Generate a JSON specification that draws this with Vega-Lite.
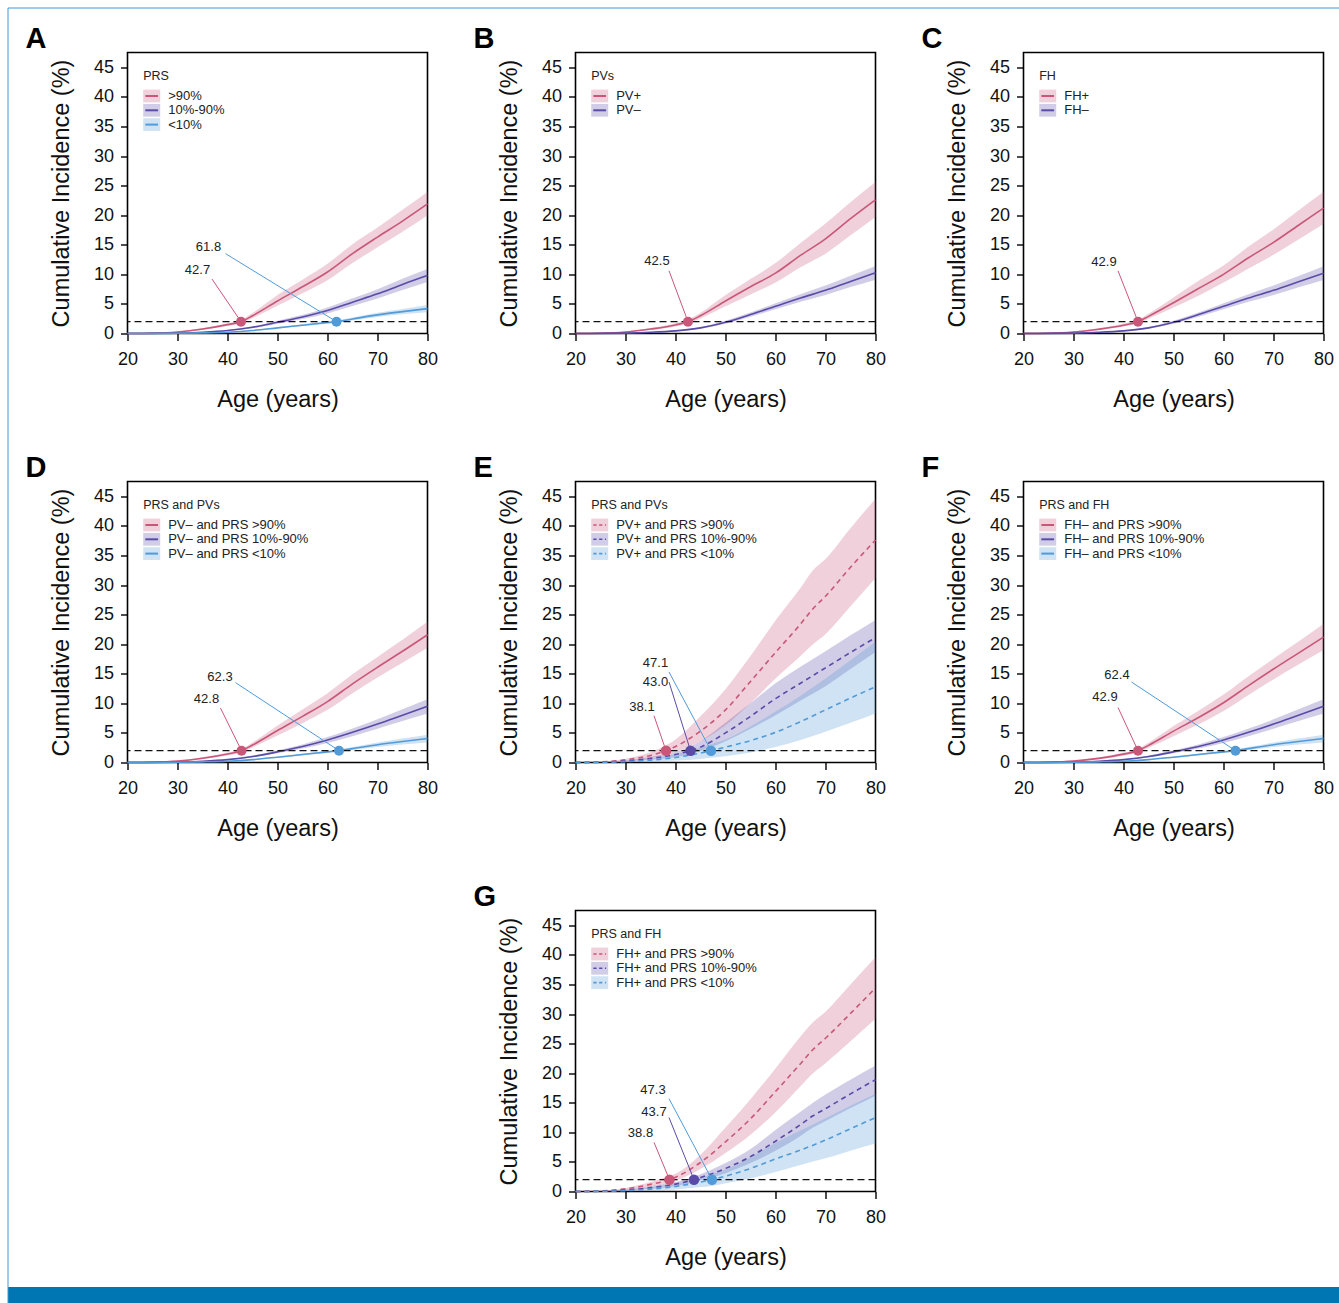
{
"$schema": "https://vega.github.io/schema/vega-lite/v6.json",
"padding": {"left": 7, "top": 7, "right": 0, "bottom": 0},
"autosize": {"type": "pad"},
"background": "white",
"columns": 1,
"align": "none",
"bounds": "flush",
"spacing": {"row": -1250.5, "column": 0},
"resolve": {"scale": {"fill": "independent", "stroke": "independent", "color": "independent", "x": "independent", "y": "independent"}, "legend": {"fill": "independent", "stroke": "independent", "color": "independent"}},
"datasets": {
"cA": [
{"g":">90%","age":20,"est":0,"lo":0,"hi":0},{"g":">90%","age":25,"est":0.05,"lo":0.03,"hi":0.08},{"g":">90%","age":30,"est":0.25,"lo":0.18,"hi":0.33},{"g":">90%","age":35,"est":0.75,"lo":0.6,"hi":0.9},{"g":">90%","age":40,"est":1.5,"lo":1.25,"hi":1.75},{"g":">90%","age":42.7,"est":2.0,"lo":1.7,"hi":2.3},{"g":">90%","age":45,"est":3.0,"lo":2.6,"hi":3.45},{"g":">90%","age":50,"est":5.5,"lo":4.7,"hi":6.5},{"g":">90%","age":55,"est":7.9,"lo":6.8,"hi":9.1},{"g":">90%","age":60,"est":10.4,"lo":9.0,"hi":11.8},{"g":">90%","age":65,"est":13.5,"lo":11.9,"hi":15.1},{"g":">90%","age":70,"est":16.3,"lo":14.6,"hi":17.9},{"g":">90%","age":75,"est":19.0,"lo":17.2,"hi":20.9},{"g":">90%","age":80,"est":21.9,"lo":20.0,"hi":23.9},
{"g":"10%-90%","age":20,"est":0,"lo":0,"hi":0},{"g":"10%-90%","age":25,"est":0.02,"lo":0.01,"hi":0.03},{"g":"10%-90%","age":30,"est":0.08,"lo":0.06,"hi":0.1},{"g":"10%-90%","age":35,"est":0.22,"lo":0.17,"hi":0.27},{"g":"10%-90%","age":40,"est":0.5,"lo":0.42,"hi":0.58},{"g":"10%-90%","age":45,"est":1.05,"lo":0.9,"hi":1.2},{"g":"10%-90%","age":50,"est":1.9,"lo":1.65,"hi":2.15},{"g":"10%-90%","age":55,"est":2.8,"lo":2.45,"hi":3.15},{"g":"10%-90%","age":60,"est":3.9,"lo":3.4,"hi":4.4},{"g":"10%-90%","age":65,"est":5.3,"lo":4.65,"hi":5.95},{"g":"10%-90%","age":70,"est":6.7,"lo":5.9,"hi":7.5},{"g":"10%-90%","age":75,"est":8.3,"lo":7.35,"hi":9.25},{"g":"10%-90%","age":80,"est":9.8,"lo":8.7,"hi":10.9},
{"g":"<10%","age":20,"est":0,"lo":0,"hi":0},{"g":"<10%","age":25,"est":0.01,"lo":0.005,"hi":0.015},{"g":"<10%","age":30,"est":0.04,"lo":0.03,"hi":0.05},{"g":"<10%","age":35,"est":0.1,"lo":0.08,"hi":0.12},{"g":"<10%","age":40,"est":0.22,"lo":0.19,"hi":0.25},{"g":"<10%","age":45,"est":0.5,"lo":0.44,"hi":0.56},{"g":"<10%","age":50,"est":0.95,"lo":0.85,"hi":1.05},{"g":"<10%","age":55,"est":1.4,"lo":1.25,"hi":1.55},{"g":"<10%","age":60,"est":1.85,"lo":1.65,"hi":2.05},{"g":"<10%","age":61.8,"est":2.0,"lo":1.78,"hi":2.22},{"g":"<10%","age":65,"est":2.45,"lo":2.2,"hi":2.7},{"g":"<10%","age":70,"est":3.15,"lo":2.8,"hi":3.5},{"g":"<10%","age":75,"est":3.7,"lo":3.25,"hi":4.15},{"g":"<10%","age":80,"est":4.2,"lo":3.6,"hi":4.8}
],
"cB": [
{"g":"PV+","age":20,"est":0,"lo":0,"hi":0},{"g":"PV+","age":25,"est":0.05,"lo":0.03,"hi":0.08},{"g":"PV+","age":30,"est":0.25,"lo":0.18,"hi":0.33},{"g":"PV+","age":35,"est":0.75,"lo":0.58,"hi":0.92},{"g":"PV+","age":40,"est":1.45,"lo":1.2,"hi":1.75},{"g":"PV+","age":42.5,"est":2.0,"lo":1.7,"hi":2.35},{"g":"PV+","age":45,"est":3.0,"lo":2.55,"hi":3.5},{"g":"PV+","age":50,"est":5.5,"lo":4.6,"hi":6.5},{"g":"PV+","age":55,"est":7.9,"lo":6.6,"hi":9.2},{"g":"PV+","age":60,"est":10.2,"lo":8.6,"hi":11.9},{"g":"PV+","age":65,"est":13.2,"lo":11.2,"hi":15.3},{"g":"PV+","age":70,"est":16.0,"lo":13.5,"hi":18.6},{"g":"PV+","age":75,"est":19.4,"lo":16.6,"hi":22.2},{"g":"PV+","age":80,"est":22.6,"lo":19.7,"hi":25.6},
{"g":"PV–","age":20,"est":0,"lo":0,"hi":0},{"g":"PV–","age":25,"est":0.02,"lo":0.01,"hi":0.03},{"g":"PV–","age":30,"est":0.07,"lo":0.05,"hi":0.09},{"g":"PV–","age":35,"est":0.2,"lo":0.16,"hi":0.24},{"g":"PV–","age":40,"est":0.45,"lo":0.38,"hi":0.52},{"g":"PV–","age":45,"est":0.95,"lo":0.82,"hi":1.08},{"g":"PV–","age":50,"est":1.9,"lo":1.65,"hi":2.15},{"g":"PV–","age":55,"est":3.2,"lo":2.85,"hi":3.55},{"g":"PV–","age":60,"est":4.6,"lo":4.1,"hi":5.1},{"g":"PV–","age":65,"est":6.0,"lo":5.35,"hi":6.65},{"g":"PV–","age":70,"est":7.3,"lo":6.5,"hi":8.1},{"g":"PV–","age":75,"est":8.8,"lo":7.85,"hi":9.75},{"g":"PV–","age":80,"est":10.25,"lo":9.1,"hi":11.4}
],
"cC": [
{"g":"FH+","age":20,"est":0,"lo":0,"hi":0},{"g":"FH+","age":25,"est":0.05,"lo":0.03,"hi":0.08},{"g":"FH+","age":30,"est":0.25,"lo":0.18,"hi":0.33},{"g":"FH+","age":35,"est":0.72,"lo":0.57,"hi":0.88},{"g":"FH+","age":40,"est":1.4,"lo":1.17,"hi":1.68},{"g":"FH+","age":42.9,"est":2.0,"lo":1.7,"hi":2.35},{"g":"FH+","age":45,"est":2.9,"lo":2.5,"hi":3.35},{"g":"FH+","age":50,"est":5.2,"lo":4.4,"hi":6.1},{"g":"FH+","age":55,"est":7.6,"lo":6.4,"hi":8.9},{"g":"FH+","age":60,"est":10.0,"lo":8.6,"hi":11.5},{"g":"FH+","age":65,"est":12.8,"lo":11.0,"hi":14.7},{"g":"FH+","age":70,"est":15.4,"lo":13.3,"hi":17.6},{"g":"FH+","age":75,"est":18.3,"lo":15.9,"hi":20.8},{"g":"FH+","age":80,"est":21.2,"lo":18.5,"hi":23.9},
{"g":"FH–","age":20,"est":0,"lo":0,"hi":0},{"g":"FH–","age":25,"est":0.02,"lo":0.01,"hi":0.03},{"g":"FH–","age":30,"est":0.07,"lo":0.05,"hi":0.09},{"g":"FH–","age":35,"est":0.2,"lo":0.16,"hi":0.24},{"g":"FH–","age":40,"est":0.45,"lo":0.38,"hi":0.52},{"g":"FH–","age":45,"est":0.95,"lo":0.82,"hi":1.08},{"g":"FH–","age":50,"est":1.9,"lo":1.65,"hi":2.15},{"g":"FH–","age":55,"est":3.2,"lo":2.85,"hi":3.55},{"g":"FH–","age":60,"est":4.6,"lo":4.1,"hi":5.1},{"g":"FH–","age":65,"est":6.0,"lo":5.35,"hi":6.65},{"g":"FH–","age":70,"est":7.3,"lo":6.5,"hi":8.1},{"g":"FH–","age":75,"est":8.75,"lo":7.8,"hi":9.7},{"g":"FH–","age":80,"est":10.2,"lo":9.05,"hi":11.35}
],
"cD": [
{"g":"PV– and PRS >90%","age":20,"est":0,"lo":0,"hi":0},{"g":"PV– and PRS >90%","age":25,"est":0.05,"lo":0.025,"hi":0.075},{"g":"PV– and PRS >90%","age":30,"est":0.24,"lo":0.17,"hi":0.31},{"g":"PV– and PRS >90%","age":35,"est":0.72,"lo":0.57,"hi":0.87},{"g":"PV– and PRS >90%","age":40,"est":1.45,"lo":1.19,"hi":1.71},{"g":"PV– and PRS >90%","age":42.8,"est":2.0,"lo":1.7,"hi":2.3},{"g":"PV– and PRS >90%","age":45,"est":2.95,"lo":2.53,"hi":3.37},{"g":"PV– and PRS >90%","age":50,"est":5.4,"lo":4.55,"hi":6.25},{"g":"PV– and PRS >90%","age":55,"est":7.8,"lo":6.65,"hi":8.95},{"g":"PV– and PRS >90%","age":60,"est":10.3,"lo":8.9,"hi":11.7},{"g":"PV– and PRS >90%","age":65,"est":13.3,"lo":11.7,"hi":14.9},{"g":"PV– and PRS >90%","age":70,"est":16.1,"lo":14.35,"hi":17.85},{"g":"PV– and PRS >90%","age":75,"est":18.8,"lo":16.85,"hi":20.75},{"g":"PV– and PRS >90%","age":80,"est":21.6,"lo":19.4,"hi":23.8},
{"g":"PV– and PRS 10%-90%","age":20,"est":0,"lo":0,"hi":0},{"g":"PV– and PRS 10%-90%","age":25,"est":0.02,"lo":0.01,"hi":0.03},{"g":"PV– and PRS 10%-90%","age":30,"est":0.08,"lo":0.06,"hi":0.1},{"g":"PV– and PRS 10%-90%","age":35,"est":0.21,"lo":0.16,"hi":0.26},{"g":"PV– and PRS 10%-90%","age":40,"est":0.48,"lo":0.4,"hi":0.56},{"g":"PV– and PRS 10%-90%","age":45,"est":1.0,"lo":0.85,"hi":1.15},{"g":"PV– and PRS 10%-90%","age":50,"est":1.8,"lo":1.55,"hi":2.05},{"g":"PV– and PRS 10%-90%","age":55,"est":2.7,"lo":2.35,"hi":3.05},{"g":"PV– and PRS 10%-90%","age":60,"est":3.8,"lo":3.3,"hi":4.3},{"g":"PV– and PRS 10%-90%","age":65,"est":5.1,"lo":4.45,"hi":5.75},{"g":"PV– and PRS 10%-90%","age":70,"est":6.5,"lo":5.7,"hi":7.3},{"g":"PV– and PRS 10%-90%","age":75,"est":8.0,"lo":7.0,"hi":9.0},{"g":"PV– and PRS 10%-90%","age":80,"est":9.5,"lo":8.3,"hi":10.7},
{"g":"PV– and PRS <10%","age":20,"est":0,"lo":0,"hi":0},{"g":"PV– and PRS <10%","age":25,"est":0.01,"lo":0.005,"hi":0.015},{"g":"PV– and PRS <10%","age":30,"est":0.04,"lo":0.03,"hi":0.05},{"g":"PV– and PRS <10%","age":35,"est":0.1,"lo":0.08,"hi":0.12},{"g":"PV– and PRS <10%","age":40,"est":0.21,"lo":0.18,"hi":0.24},{"g":"PV– and PRS <10%","age":45,"est":0.48,"lo":0.42,"hi":0.54},{"g":"PV– and PRS <10%","age":50,"est":0.9,"lo":0.8,"hi":1.0},{"g":"PV– and PRS <10%","age":55,"est":1.35,"lo":1.2,"hi":1.5},{"g":"PV– and PRS <10%","age":60,"est":1.8,"lo":1.6,"hi":2.0},{"g":"PV– and PRS <10%","age":62.3,"est":2.0,"lo":1.78,"hi":2.22},{"g":"PV– and PRS <10%","age":65,"est":2.35,"lo":2.1,"hi":2.6},{"g":"PV– and PRS <10%","age":70,"est":3.0,"lo":2.62,"hi":3.38},{"g":"PV– and PRS <10%","age":75,"est":3.55,"lo":3.05,"hi":4.05},{"g":"PV– and PRS <10%","age":80,"est":4.05,"lo":3.4,"hi":4.7}
],
"cE": [
{"g":"PV+ and PRS >90%","age":20,"est":0,"lo":0,"hi":0},{"g":"PV+ and PRS >90%","age":25,"est":0.1,"lo":0.06,"hi":0.15},{"g":"PV+ and PRS >90%","age":30,"est":0.45,"lo":0.3,"hi":0.65},{"g":"PV+ and PRS >90%","age":35,"est":1.2,"lo":0.8,"hi":1.75},{"g":"PV+ and PRS >90%","age":38.1,"est":2.0,"lo":1.35,"hi":2.9},{"g":"PV+ and PRS >90%","age":40,"est":2.7,"lo":1.8,"hi":3.9},{"g":"PV+ and PRS >90%","age":45,"est":5.3,"lo":3.6,"hi":7.8},{"g":"PV+ and PRS >90%","age":50,"est":8.9,"lo":6.3,"hi":12.4},{"g":"PV+ and PRS >90%","age":55,"est":13.7,"lo":10.0,"hi":18.0},{"g":"PV+ and PRS >90%","age":60,"est":18.6,"lo":14.2,"hi":24.0},{"g":"PV+ and PRS >90%","age":65,"est":23.4,"lo":18.0,"hi":29.5},{"g":"PV+ and PRS >90%","age":67.5,"est":26.0,"lo":20.0,"hi":32.5},{"g":"PV+ and PRS >90%","age":70,"est":28.1,"lo":21.7,"hi":34.4},{"g":"PV+ and PRS >90%","age":75,"est":33.0,"lo":26.4,"hi":39.6},{"g":"PV+ and PRS >90%","age":80,"est":37.6,"lo":31.2,"hi":44.6},
{"g":"PV+ and PRS 10%-90%","age":20,"est":0,"lo":0,"hi":0},{"g":"PV+ and PRS 10%-90%","age":25,"est":0.05,"lo":0.03,"hi":0.08},{"g":"PV+ and PRS 10%-90%","age":30,"est":0.25,"lo":0.15,"hi":0.35},{"g":"PV+ and PRS 10%-90%","age":35,"est":0.7,"lo":0.45,"hi":0.95},{"g":"PV+ and PRS 10%-90%","age":40,"est":1.35,"lo":0.95,"hi":1.8},{"g":"PV+ and PRS 10%-90%","age":43,"est":2.0,"lo":1.45,"hi":2.7},{"g":"PV+ and PRS 10%-90%","age":45,"est":2.6,"lo":1.95,"hi":3.6},{"g":"PV+ and PRS 10%-90%","age":50,"est":5.0,"lo":3.6,"hi":6.7},{"g":"PV+ and PRS 10%-90%","age":55,"est":7.8,"lo":5.7,"hi":10.0},{"g":"PV+ and PRS 10%-90%","age":60,"est":10.8,"lo":8.0,"hi":13.4},{"g":"PV+ and PRS 10%-90%","age":65,"est":13.4,"lo":10.5,"hi":16.2},{"g":"PV+ and PRS 10%-90%","age":70,"est":16.0,"lo":12.9,"hi":18.8},{"g":"PV+ and PRS 10%-90%","age":75,"est":18.6,"lo":15.8,"hi":21.5},{"g":"PV+ and PRS 10%-90%","age":80,"est":21.1,"lo":18.7,"hi":24.1},
{"g":"PV+ and PRS <10%","age":20,"est":0,"lo":0,"hi":0},{"g":"PV+ and PRS <10%","age":25,"est":0.03,"lo":0.01,"hi":0.05},{"g":"PV+ and PRS <10%","age":30,"est":0.15,"lo":0.05,"hi":0.3},{"g":"PV+ and PRS <10%","age":35,"est":0.4,"lo":0.15,"hi":0.7},{"g":"PV+ and PRS <10%","age":40,"est":0.85,"lo":0.35,"hi":1.4},{"g":"PV+ and PRS <10%","age":45,"est":1.6,"lo":0.6,"hi":2.5},{"g":"PV+ and PRS <10%","age":47.1,"est":2.0,"lo":0.8,"hi":3.1},{"g":"PV+ and PRS <10%","age":50,"est":2.6,"lo":1.05,"hi":3.9},{"g":"PV+ and PRS <10%","age":55,"est":3.7,"lo":1.7,"hi":6.1},{"g":"PV+ and PRS <10%","age":60,"est":5.1,"lo":2.6,"hi":8.6},{"g":"PV+ and PRS <10%","age":65,"est":6.9,"lo":3.8,"hi":11.3},{"g":"PV+ and PRS <10%","age":70,"est":8.9,"lo":5.2,"hi":14.2},{"g":"PV+ and PRS <10%","age":75,"est":10.9,"lo":6.7,"hi":17.3},{"g":"PV+ and PRS <10%","age":80,"est":12.8,"lo":8.3,"hi":20.4}
],
"cF": [
{"g":"FH– and PRS >90%","age":20,"est":0,"lo":0,"hi":0},{"g":"FH– and PRS >90%","age":25,"est":0.05,"lo":0.025,"hi":0.075},{"g":"FH– and PRS >90%","age":30,"est":0.24,"lo":0.17,"hi":0.31},{"g":"FH– and PRS >90%","age":35,"est":0.7,"lo":0.55,"hi":0.85},{"g":"FH– and PRS >90%","age":40,"est":1.42,"lo":1.16,"hi":1.68},{"g":"FH– and PRS >90%","age":42.9,"est":2.0,"lo":1.7,"hi":2.3},{"g":"FH– and PRS >90%","age":45,"est":2.9,"lo":2.48,"hi":3.32},{"g":"FH– and PRS >90%","age":50,"est":5.3,"lo":4.45,"hi":6.15},{"g":"FH– and PRS >90%","age":55,"est":7.6,"lo":6.45,"hi":8.75},{"g":"FH– and PRS >90%","age":60,"est":10.1,"lo":8.7,"hi":11.5},{"g":"FH– and PRS >90%","age":65,"est":13.0,"lo":11.4,"hi":14.6},{"g":"FH– and PRS >90%","age":70,"est":15.8,"lo":14.05,"hi":17.55},{"g":"FH– and PRS >90%","age":75,"est":18.5,"lo":16.55,"hi":20.45},{"g":"FH– and PRS >90%","age":80,"est":21.2,"lo":19.0,"hi":23.4},
{"g":"FH– and PRS 10%-90%","age":20,"est":0,"lo":0,"hi":0},{"g":"FH– and PRS 10%-90%","age":25,"est":0.02,"lo":0.01,"hi":0.03},{"g":"FH– and PRS 10%-90%","age":30,"est":0.08,"lo":0.06,"hi":0.1},{"g":"FH– and PRS 10%-90%","age":35,"est":0.21,"lo":0.16,"hi":0.26},{"g":"FH– and PRS 10%-90%","age":40,"est":0.48,"lo":0.4,"hi":0.56},{"g":"FH– and PRS 10%-90%","age":45,"est":1.0,"lo":0.85,"hi":1.15},{"g":"FH– and PRS 10%-90%","age":50,"est":1.8,"lo":1.55,"hi":2.05},{"g":"FH– and PRS 10%-90%","age":55,"est":2.7,"lo":2.35,"hi":3.05},{"g":"FH– and PRS 10%-90%","age":60,"est":3.8,"lo":3.3,"hi":4.3},{"g":"FH– and PRS 10%-90%","age":65,"est":5.1,"lo":4.45,"hi":5.75},{"g":"FH– and PRS 10%-90%","age":70,"est":6.5,"lo":5.7,"hi":7.3},{"g":"FH– and PRS 10%-90%","age":75,"est":8.0,"lo":7.0,"hi":9.0},{"g":"FH– and PRS 10%-90%","age":80,"est":9.5,"lo":8.3,"hi":10.7},
{"g":"FH– and PRS <10%","age":20,"est":0,"lo":0,"hi":0},{"g":"FH– and PRS <10%","age":25,"est":0.01,"lo":0.005,"hi":0.015},{"g":"FH– and PRS <10%","age":30,"est":0.04,"lo":0.03,"hi":0.05},{"g":"FH– and PRS <10%","age":35,"est":0.1,"lo":0.08,"hi":0.12},{"g":"FH– and PRS <10%","age":40,"est":0.21,"lo":0.18,"hi":0.24},{"g":"FH– and PRS <10%","age":45,"est":0.48,"lo":0.42,"hi":0.54},{"g":"FH– and PRS <10%","age":50,"est":0.9,"lo":0.8,"hi":1.0},{"g":"FH– and PRS <10%","age":55,"est":1.35,"lo":1.2,"hi":1.5},{"g":"FH– and PRS <10%","age":60,"est":1.8,"lo":1.6,"hi":2.0},{"g":"FH– and PRS <10%","age":62.4,"est":2.0,"lo":1.78,"hi":2.22},{"g":"FH– and PRS <10%","age":65,"est":2.35,"lo":2.1,"hi":2.6},{"g":"FH– and PRS <10%","age":70,"est":3.0,"lo":2.62,"hi":3.38},{"g":"FH– and PRS <10%","age":75,"est":3.55,"lo":3.05,"hi":4.05},{"g":"FH– and PRS <10%","age":80,"est":4.05,"lo":3.4,"hi":4.7}
],
"cG": [
{"g":"FH+ and PRS >90%","age":20,"est":0,"lo":0,"hi":0},{"g":"FH+ and PRS >90%","age":25,"est":0.1,"lo":0.06,"hi":0.14},{"g":"FH+ and PRS >90%","age":30,"est":0.45,"lo":0.3,"hi":0.6},{"g":"FH+ and PRS >90%","age":35,"est":1.2,"lo":0.85,"hi":1.6},{"g":"FH+ and PRS >90%","age":38.8,"est":2.0,"lo":1.5,"hi":2.6},{"g":"FH+ and PRS >90%","age":40,"est":2.4,"lo":1.8,"hi":3.0},{"g":"FH+ and PRS >90%","age":45,"est":4.9,"lo":3.8,"hi":6.2},{"g":"FH+ and PRS >90%","age":50,"est":8.4,"lo":6.5,"hi":10.8},{"g":"FH+ and PRS >90%","age":55,"est":12.3,"lo":9.6,"hi":15.6},{"g":"FH+ and PRS >90%","age":60,"est":16.9,"lo":13.4,"hi":20.8},{"g":"FH+ and PRS >90%","age":65,"est":21.6,"lo":17.8,"hi":26.2},{"g":"FH+ and PRS >90%","age":67.5,"est":24.0,"lo":20.0,"hi":28.6},{"g":"FH+ and PRS >90%","age":70,"est":25.9,"lo":21.7,"hi":30.4},{"g":"FH+ and PRS >90%","age":75,"est":30.1,"lo":25.4,"hi":35.0},{"g":"FH+ and PRS >90%","age":80,"est":34.4,"lo":29.2,"hi":39.6},
{"g":"FH+ and PRS 10%-90%","age":20,"est":0,"lo":0,"hi":0},{"g":"FH+ and PRS 10%-90%","age":25,"est":0.04,"lo":0.02,"hi":0.06},{"g":"FH+ and PRS 10%-90%","age":30,"est":0.25,"lo":0.15,"hi":0.35},{"g":"FH+ and PRS 10%-90%","age":35,"est":0.65,"lo":0.45,"hi":0.9},{"g":"FH+ and PRS 10%-90%","age":40,"est":1.25,"lo":0.9,"hi":1.6},{"g":"FH+ and PRS 10%-90%","age":43.7,"est":2.0,"lo":1.55,"hi":2.5},{"g":"FH+ and PRS 10%-90%","age":45,"est":2.35,"lo":1.9,"hi":2.9},{"g":"FH+ and PRS 10%-90%","age":50,"est":3.9,"lo":3.1,"hi":4.8},{"g":"FH+ and PRS 10%-90%","age":55,"est":5.9,"lo":4.8,"hi":7.2},{"g":"FH+ and PRS 10%-90%","age":60,"est":8.5,"lo":6.9,"hi":10.4},{"g":"FH+ and PRS 10%-90%","age":65,"est":11.3,"lo":9.4,"hi":13.5},{"g":"FH+ and PRS 10%-90%","age":67.5,"est":12.8,"lo":10.8,"hi":15.0},{"g":"FH+ and PRS 10%-90%","age":70,"est":14.0,"lo":11.9,"hi":16.4},{"g":"FH+ and PRS 10%-90%","age":75,"est":16.5,"lo":14.1,"hi":18.9},{"g":"FH+ and PRS 10%-90%","age":80,"est":18.9,"lo":16.2,"hi":21.3},
{"g":"FH+ and PRS <10%","age":20,"est":0,"lo":0,"hi":0},{"g":"FH+ and PRS <10%","age":25,"est":0.03,"lo":0.01,"hi":0.05},{"g":"FH+ and PRS <10%","age":30,"est":0.15,"lo":0.05,"hi":0.28},{"g":"FH+ and PRS <10%","age":35,"est":0.4,"lo":0.15,"hi":0.7},{"g":"FH+ and PRS <10%","age":40,"est":0.85,"lo":0.35,"hi":1.35},{"g":"FH+ and PRS <10%","age":45,"est":1.6,"lo":0.75,"hi":2.3},{"g":"FH+ and PRS <10%","age":47.3,"est":2.0,"lo":0.95,"hi":2.95},{"g":"FH+ and PRS <10%","age":50,"est":2.6,"lo":1.4,"hi":3.7},{"g":"FH+ and PRS <10%","age":55,"est":3.9,"lo":2.2,"hi":5.8},{"g":"FH+ and PRS <10%","age":60,"est":5.5,"lo":3.3,"hi":8.2},{"g":"FH+ and PRS <10%","age":65,"est":7.0,"lo":4.5,"hi":10.3},{"g":"FH+ and PRS <10%","age":70,"est":8.7,"lo":5.6,"hi":12.4},{"g":"FH+ and PRS <10%","age":75,"est":10.6,"lo":6.9,"hi":14.5},{"g":"FH+ and PRS <10%","age":80,"est":12.5,"lo":8.1,"hi":16.5}
],
"aA": [{"g":">90%","age":42.7,"tx":34.0,"ty":10.8,"sx":36.9,"sy":9.2,"label":"42.7"},{"g":"<10%","age":61.8,"tx":36.2,"ty":14.6,"sx":39.6,"sy":13.5,"label":"61.8"}],
"aB": [{"g":"PV+","age":42.5,"tx":36.3,"ty":12.3,"sx":38.7,"sy":10.6,"label":"42.5"}],
"aC": [{"g":"FH+","age":42.9,"tx":36.1,"ty":12.05,"sx":38.9,"sy":10.6,"label":"42.9"}],
"aD": [{"g":"PV– and PRS >90%","age":42.8,"tx":35.8,"ty":10.7,"sx":38.6,"sy":9.2,"label":"42.8"},{"g":"PV– and PRS <10%","age":62.3,"tx":38.5,"ty":14.5,"sx":41.6,"sy":13.5,"label":"62.3"}],
"aE": [{"g":"PV+ and PRS >90%","age":38.1,"tx":33.3,"ty":9.35,"sx":35.7,"sy":7.9,"label":"38.1"},{"g":"PV+ and PRS 10%-90%","age":43.0,"tx":36.0,"ty":13.6,"sx":38.7,"sy":13.6,"label":"43.0"},{"g":"PV+ and PRS <10%","age":47.1,"tx":36.0,"ty":16.9,"sx":38.7,"sy":15.3,"label":"47.1"}],
"aF": [{"g":"FH– and PRS >90%","age":42.9,"tx":36.3,"ty":11.0,"sx":38.9,"sy":9.3,"label":"42.9"},{"g":"FH– and PRS <10%","age":62.4,"tx":38.7,"ty":14.8,"sx":41.6,"sy":13.6,"label":"62.4"}],
"aG": [{"g":"FH+ and PRS >90%","age":38.8,"tx":33.0,"ty":9.85,"sx":35.7,"sy":8.3,"label":"38.8"},{"g":"FH+ and PRS 10%-90%","age":43.7,"tx":35.7,"ty":13.4,"sx":38.7,"sy":12.5,"label":"43.7"},{"g":"FH+ and PRS <10%","age":47.3,"tx":35.5,"ty":17.2,"sx":38.7,"sy":15.7,"label":"47.3"}]
},
"concat": [
{
 "width": 1331, "height": 1295,
 "view": {"stroke": null},
 "layer": [
  {"data": {"values": [{"x0": 0, "x1": 1, "y0": 0, "y1": 1}]},
   "mark": {"type": "rect", "color": "#0077b3", "opacity": 1},
   "encoding": {
    "x": {"field": "x0", "type": "quantitative", "scale": {"domain": [0, 1], "nice": false, "zero": false}, "axis": null},
    "x2": {"field": "x1"},
    "y": {"field": "y0", "type": "quantitative", "scale": {"domain": [0, 81], "nice": false, "zero": false}, "axis": null},
    "y2": {"field": "y1"}}},
  {"data": {"values": [{"x0": 0}]},
   "mark": {"type": "rule", "color": "#3d9ad1", "strokeWidth": 1},
   "encoding": {"x": {"field": "x0", "type": "quantitative", "scale": {"domain": [0, 1], "nice": false, "zero": false}, "axis": null}}},
  {"data": {"values": [{"y0": 81}]},
   "mark": {"type": "rule", "color": "#3d9ad1", "strokeWidth": 1},
   "encoding": {"y": {"field": "y0", "type": "quantitative", "scale": {"domain": [0, 81], "nice": false, "zero": false}, "axis": null}}}
 ]
},
{
 "resolve": {"scale": {"fill": "independent", "stroke": "independent", "color": "independent", "x": "independent", "y": "independent"}, "legend": {"fill": "independent", "stroke": "independent", "color": "independent"}},
 "hconcat": [
  {"width": 119, "height": 10, "view": {"stroke": null}, "data": {"values": []}, "mark": "point"},
  {
   "columns": 3,
   "bounds": "flush",
   "spacing": {"row": 148, "column": 148},
   "resolve": {"scale": {"fill": "independent", "stroke": "independent", "color": "independent", "x": "independent", "y": "independent"}, "legend": {"fill": "independent", "stroke": "independent", "color": "independent"}},
   "concat": [
{
 "width": 300, "height": 281, "title": "A",
 "layer": [
  {"data": {"name": "cA"}, "mark": {"type": "area", "opacity": 0.28, "interpolate": "monotone"},
   "encoding": {
    "x": {"field": "age", "type": "quantitative", "scale": {"domain": [20, 80], "nice": false, "zero": false}, "axis": {"title": "Age (years)"}},
    "y": {"field": "lo", "type": "quantitative", "scale": {"domain": [0, 47.5], "nice": false}, "axis": {"title": "Cumulative Incidence (%)"}},
    "y2": {"field": "hi"},
    "fill": {"field": "g", "type": "nominal", "scale": {"domain": [">90%","10%-90%","<10%"], "range": ["#c9577a","#5b4ba8","#519bd9"]},
     "legend": {"title": "PRS", "orient": "none", "legendX": 15.7, "legendY": 17.1, "titleOpacity": 0, "labelOpacity": 0, "symbolType": "M-1.308,-0.98H1.308V0.98H-1.308Z", "symbolSize": 169, "symbolOpacity": 0.28, "symbolStrokeWidth": 0, "symbolOffset": 2, "labelOffset": 10, "zindex": 1}}}},
  {"data": {"name": "cA"}, "mark": {"type": "line", "strokeWidth": 1.6, "interpolate": "monotone"},
   "encoding": {
    "x": {"field": "age", "type": "quantitative"},
    "y": {"field": "est", "type": "quantitative"},
    "stroke": {"field": "g", "type": "nominal", "scale": {"domain": [">90%","10%-90%","<10%","s"], "range": ["#c9577a","#5b4ba8","#519bd9","#000"]},
     "legend": {"title": "PRS", "orient": "none", "legendX": 15.7, "legendY": 17.1, "values": [">90%","10%-90%","<10%"], "symbolType": "M-1.154,0H1.154", "symbolSize": 121, "symbolStrokeWidth": 2, "symbolOffset": 2, "symbolFillColor": "transparent", "labelOffset": 10, "zindex": 2}}}},
  {"data": {"values": [{"t": 2}]}, "mark": {"type": "rule", "color": "#111", "strokeWidth": 1.3, "strokeDash": [7, 4]},
   "encoding": {"y": {"field": "t", "type": "quantitative"}}},
  {"data": {"name": "aA"}, "mark": {"type": "rule", "strokeWidth": 1},
   "encoding": {"x": {"field": "sx", "type": "quantitative"}, "y": {"field": "sy", "type": "quantitative"}, "x2": {"field": "age"}, "y2": {"datum": 2},
    "color": {"field": "g", "type": "nominal", "scale": {"domain": [">90%","10%-90%","<10%","c"], "range": ["#c9577a","#5b4ba8","#519bd9","#000"]}, "legend": null}}},
  {"data": {"name": "aA"}, "mark": {"type": "point", "filled": true, "size": 100, "opacity": 1},
   "encoding": {"x": {"field": "age", "type": "quantitative"}, "y": {"datum": 2},
    "color": {"field": "g", "type": "nominal", "scale": {"domain": [">90%","10%-90%","<10%","c"], "range": ["#c9577a","#5b4ba8","#519bd9","#000"]}, "legend": null}}},
  {"data": {"name": "aA"}, "mark": {"type": "text", "fontSize": 13, "color": "#222"},
   "encoding": {"x": {"field": "tx", "type": "quantitative"}, "y": {"field": "ty", "type": "quantitative"}, "text": {"field": "label", "type": "nominal"}}}
 ]
},
{
 "width": 300, "height": 281, "title": "B",
 "layer": [
  {"data": {"name": "cB"}, "mark": {"type": "area", "opacity": 0.28, "interpolate": "monotone"},
   "encoding": {
    "x": {"field": "age", "type": "quantitative", "scale": {"domain": [20, 80], "nice": false, "zero": false}, "axis": {"title": "Age (years)"}},
    "y": {"field": "lo", "type": "quantitative", "scale": {"domain": [0, 47.5], "nice": false}, "axis": {"title": "Cumulative Incidence (%)"}},
    "y2": {"field": "hi"},
    "fill": {"field": "g", "type": "nominal", "scale": {"domain": ["PV+","PV–"], "range": ["#c9577a","#5b4ba8"]},
     "legend": {"title": "PVs", "orient": "none", "legendX": 15.7, "legendY": 17.1, "titleOpacity": 0, "labelOpacity": 0, "symbolType": "M-1.308,-0.98H1.308V0.98H-1.308Z", "symbolSize": 169, "symbolOpacity": 0.28, "symbolStrokeWidth": 0, "symbolOffset": 2, "labelOffset": 10, "zindex": 1}}}},
  {"data": {"name": "cB"}, "mark": {"type": "line", "strokeWidth": 1.6, "interpolate": "monotone"},
   "encoding": {
    "x": {"field": "age", "type": "quantitative"},
    "y": {"field": "est", "type": "quantitative"},
    "stroke": {"field": "g", "type": "nominal", "scale": {"domain": ["PV+","PV–","s"], "range": ["#c9577a","#5b4ba8","#000"]},
     "legend": {"title": "PVs", "orient": "none", "legendX": 15.7, "legendY": 17.1, "values": ["PV+","PV–"], "symbolType": "M-1.154,0H1.154", "symbolSize": 121, "symbolStrokeWidth": 2, "symbolOffset": 2, "symbolFillColor": "transparent", "labelOffset": 10, "zindex": 2}}}},
  {"data": {"values": [{"t": 2}]}, "mark": {"type": "rule", "color": "#111", "strokeWidth": 1.3, "strokeDash": [7, 4]},
   "encoding": {"y": {"field": "t", "type": "quantitative"}}},
  {"data": {"name": "aB"}, "mark": {"type": "rule", "strokeWidth": 1},
   "encoding": {"x": {"field": "sx", "type": "quantitative"}, "y": {"field": "sy", "type": "quantitative"}, "x2": {"field": "age"}, "y2": {"datum": 2},
    "color": {"field": "g", "type": "nominal", "scale": {"domain": ["PV+","PV–","c"], "range": ["#c9577a","#5b4ba8","#000"]}, "legend": null}}},
  {"data": {"name": "aB"}, "mark": {"type": "point", "filled": true, "size": 100, "opacity": 1},
   "encoding": {"x": {"field": "age", "type": "quantitative"}, "y": {"datum": 2},
    "color": {"field": "g", "type": "nominal", "scale": {"domain": ["PV+","PV–","c"], "range": ["#c9577a","#5b4ba8","#000"]}, "legend": null}}},
  {"data": {"name": "aB"}, "mark": {"type": "text", "fontSize": 13, "color": "#222"},
   "encoding": {"x": {"field": "tx", "type": "quantitative"}, "y": {"field": "ty", "type": "quantitative"}, "text": {"field": "label", "type": "nominal"}}}
 ]
},
{
 "width": 300, "height": 281, "title": "C",
 "layer": [
  {"data": {"name": "cC"}, "mark": {"type": "area", "opacity": 0.28, "interpolate": "monotone"},
   "encoding": {
    "x": {"field": "age", "type": "quantitative", "scale": {"domain": [20, 80], "nice": false, "zero": false}, "axis": {"title": "Age (years)"}},
    "y": {"field": "lo", "type": "quantitative", "scale": {"domain": [0, 47.5], "nice": false}, "axis": {"title": "Cumulative Incidence (%)"}},
    "y2": {"field": "hi"},
    "fill": {"field": "g", "type": "nominal", "scale": {"domain": ["FH+","FH–"], "range": ["#c9577a","#5b4ba8"]},
     "legend": {"title": "FH", "orient": "none", "legendX": 15.7, "legendY": 17.1, "titleOpacity": 0, "labelOpacity": 0, "symbolType": "M-1.308,-0.98H1.308V0.98H-1.308Z", "symbolSize": 169, "symbolOpacity": 0.28, "symbolStrokeWidth": 0, "symbolOffset": 2, "labelOffset": 10, "zindex": 1}}}},
  {"data": {"name": "cC"}, "mark": {"type": "line", "strokeWidth": 1.6, "interpolate": "monotone"},
   "encoding": {
    "x": {"field": "age", "type": "quantitative"},
    "y": {"field": "est", "type": "quantitative"},
    "stroke": {"field": "g", "type": "nominal", "scale": {"domain": ["FH+","FH–","s"], "range": ["#c9577a","#5b4ba8","#000"]},
     "legend": {"title": "FH", "orient": "none", "legendX": 15.7, "legendY": 17.1, "values": ["FH+","FH–"], "symbolType": "M-1.154,0H1.154", "symbolSize": 121, "symbolStrokeWidth": 2, "symbolOffset": 2, "symbolFillColor": "transparent", "labelOffset": 10, "zindex": 2}}}},
  {"data": {"values": [{"t": 2}]}, "mark": {"type": "rule", "color": "#111", "strokeWidth": 1.3, "strokeDash": [7, 4]},
   "encoding": {"y": {"field": "t", "type": "quantitative"}}},
  {"data": {"name": "aC"}, "mark": {"type": "rule", "strokeWidth": 1},
   "encoding": {"x": {"field": "sx", "type": "quantitative"}, "y": {"field": "sy", "type": "quantitative"}, "x2": {"field": "age"}, "y2": {"datum": 2},
    "color": {"field": "g", "type": "nominal", "scale": {"domain": ["FH+","FH–","c"], "range": ["#c9577a","#5b4ba8","#000"]}, "legend": null}}},
  {"data": {"name": "aC"}, "mark": {"type": "point", "filled": true, "size": 100, "opacity": 1},
   "encoding": {"x": {"field": "age", "type": "quantitative"}, "y": {"datum": 2},
    "color": {"field": "g", "type": "nominal", "scale": {"domain": ["FH+","FH–","c"], "range": ["#c9577a","#5b4ba8","#000"]}, "legend": null}}},
  {"data": {"name": "aC"}, "mark": {"type": "text", "fontSize": 13, "color": "#222"},
   "encoding": {"x": {"field": "tx", "type": "quantitative"}, "y": {"field": "ty", "type": "quantitative"}, "text": {"field": "label", "type": "nominal"}}}
 ]
},
{
 "width": 300, "height": 281, "title": "D",
 "layer": [
  {"data": {"name": "cD"}, "mark": {"type": "area", "opacity": 0.28, "interpolate": "monotone"},
   "encoding": {
    "x": {"field": "age", "type": "quantitative", "scale": {"domain": [20, 80], "nice": false, "zero": false}, "axis": {"title": "Age (years)"}},
    "y": {"field": "lo", "type": "quantitative", "scale": {"domain": [0, 47.5], "nice": false}, "axis": {"title": "Cumulative Incidence (%)"}},
    "y2": {"field": "hi"},
    "fill": {"field": "g", "type": "nominal", "scale": {"domain": ["PV– and PRS >90%","PV– and PRS 10%-90%","PV– and PRS <10%"], "range": ["#c9577a","#5b4ba8","#519bd9"]},
     "legend": {"title": "PRS and PVs", "orient": "none", "legendX": 15.7, "legendY": 17.1, "titleOpacity": 0, "labelOpacity": 0, "symbolType": "M-1.308,-0.98H1.308V0.98H-1.308Z", "symbolSize": 169, "symbolOpacity": 0.28, "symbolStrokeWidth": 0, "symbolOffset": 2, "labelOffset": 10, "zindex": 1}}}},
  {"data": {"name": "cD"}, "mark": {"type": "line", "strokeWidth": 1.6, "interpolate": "monotone"},
   "encoding": {
    "x": {"field": "age", "type": "quantitative"},
    "y": {"field": "est", "type": "quantitative"},
    "stroke": {"field": "g", "type": "nominal", "scale": {"domain": ["PV– and PRS >90%","PV– and PRS 10%-90%","PV– and PRS <10%","s"], "range": ["#c9577a","#5b4ba8","#519bd9","#000"]},
     "legend": {"title": "PRS and PVs", "orient": "none", "legendX": 15.7, "legendY": 17.1, "values": ["PV– and PRS >90%","PV– and PRS 10%-90%","PV– and PRS <10%"], "symbolType": "M-1.154,0H1.154", "symbolSize": 121, "symbolStrokeWidth": 2, "symbolOffset": 2, "symbolFillColor": "transparent", "labelOffset": 10, "zindex": 2}}}},
  {"data": {"values": [{"t": 2}]}, "mark": {"type": "rule", "color": "#111", "strokeWidth": 1.3, "strokeDash": [7, 4]},
   "encoding": {"y": {"field": "t", "type": "quantitative"}}},
  {"data": {"name": "aD"}, "mark": {"type": "rule", "strokeWidth": 1},
   "encoding": {"x": {"field": "sx", "type": "quantitative"}, "y": {"field": "sy", "type": "quantitative"}, "x2": {"field": "age"}, "y2": {"datum": 2},
    "color": {"field": "g", "type": "nominal", "scale": {"domain": ["PV– and PRS >90%","PV– and PRS 10%-90%","PV– and PRS <10%","c"], "range": ["#c9577a","#5b4ba8","#519bd9","#000"]}, "legend": null}}},
  {"data": {"name": "aD"}, "mark": {"type": "point", "filled": true, "size": 100, "opacity": 1},
   "encoding": {"x": {"field": "age", "type": "quantitative"}, "y": {"datum": 2},
    "color": {"field": "g", "type": "nominal", "scale": {"domain": ["PV– and PRS >90%","PV– and PRS 10%-90%","PV– and PRS <10%","c"], "range": ["#c9577a","#5b4ba8","#519bd9","#000"]}, "legend": null}}},
  {"data": {"name": "aD"}, "mark": {"type": "text", "fontSize": 13, "color": "#222"},
   "encoding": {"x": {"field": "tx", "type": "quantitative"}, "y": {"field": "ty", "type": "quantitative"}, "text": {"field": "label", "type": "nominal"}}}
 ]
},
{
 "width": 300, "height": 281, "title": "E",
 "layer": [
  {"data": {"name": "cE"}, "mark": {"type": "area", "opacity": 0.28, "interpolate": "monotone"},
   "encoding": {
    "x": {"field": "age", "type": "quantitative", "scale": {"domain": [20, 80], "nice": false, "zero": false}, "axis": {"title": "Age (years)"}},
    "y": {"field": "lo", "type": "quantitative", "scale": {"domain": [0, 47.5], "nice": false}, "axis": {"title": "Cumulative Incidence (%)"}},
    "y2": {"field": "hi"},
    "fill": {"field": "g", "type": "nominal", "scale": {"domain": ["PV+ and PRS >90%","PV+ and PRS 10%-90%","PV+ and PRS <10%"], "range": ["#c9577a","#5b4ba8","#519bd9"]},
     "legend": {"title": "PRS and PVs", "orient": "none", "legendX": 15.7, "legendY": 17.1, "titleOpacity": 0, "labelOpacity": 0, "symbolType": "M-1.308,-0.98H1.308V0.98H-1.308Z", "symbolSize": 169, "symbolOpacity": 0.28, "symbolStrokeWidth": 0, "symbolOffset": 2, "labelOffset": 10, "zindex": 1}}}},
  {"data": {"name": "cE"}, "mark": {"type": "line", "strokeWidth": 1.6, "strokeDash": [5, 4], "interpolate": "monotone"},
   "encoding": {
    "x": {"field": "age", "type": "quantitative"},
    "y": {"field": "est", "type": "quantitative"},
    "stroke": {"field": "g", "type": "nominal", "scale": {"domain": ["PV+ and PRS >90%","PV+ and PRS 10%-90%","PV+ and PRS <10%","s"], "range": ["#c9577a","#5b4ba8","#519bd9","#000"]},
     "legend": {"title": "PRS and PVs", "orient": "none", "legendX": 15.7, "legendY": 17.1, "values": ["PV+ and PRS >90%","PV+ and PRS 10%-90%","PV+ and PRS <10%"], "symbolType": "M-1.154,0H1.154", "symbolSize": 121, "symbolStrokeWidth": 1.6, "symbolDash": [3.2, 2.6], "symbolOffset": 2, "symbolFillColor": "transparent", "labelOffset": 10, "zindex": 2}}}},
  {"data": {"values": [{"t": 2}]}, "mark": {"type": "rule", "color": "#111", "strokeWidth": 1.3, "strokeDash": [7, 4]},
   "encoding": {"y": {"field": "t", "type": "quantitative"}}},
  {"data": {"name": "aE"}, "mark": {"type": "rule", "strokeWidth": 1},
   "encoding": {"x": {"field": "sx", "type": "quantitative"}, "y": {"field": "sy", "type": "quantitative"}, "x2": {"field": "age"}, "y2": {"datum": 2},
    "color": {"field": "g", "type": "nominal", "scale": {"domain": ["PV+ and PRS >90%","PV+ and PRS 10%-90%","PV+ and PRS <10%","c"], "range": ["#c9577a","#5b4ba8","#519bd9","#000"]}, "legend": null}}},
  {"data": {"name": "aE"}, "mark": {"type": "point", "filled": true, "size": 110, "opacity": 1},
   "encoding": {"x": {"field": "age", "type": "quantitative"}, "y": {"datum": 2},
    "color": {"field": "g", "type": "nominal", "scale": {"domain": ["PV+ and PRS >90%","PV+ and PRS 10%-90%","PV+ and PRS <10%","c"], "range": ["#c9577a","#5b4ba8","#519bd9","#000"]}, "legend": null}}},
  {"data": {"name": "aE"}, "mark": {"type": "text", "fontSize": 13, "color": "#222"},
   "encoding": {"x": {"field": "tx", "type": "quantitative"}, "y": {"field": "ty", "type": "quantitative"}, "text": {"field": "label", "type": "nominal"}}}
 ]
},
{
 "width": 300, "height": 281, "title": "F",
 "layer": [
  {"data": {"name": "cF"}, "mark": {"type": "area", "opacity": 0.28, "interpolate": "monotone"},
   "encoding": {
    "x": {"field": "age", "type": "quantitative", "scale": {"domain": [20, 80], "nice": false, "zero": false}, "axis": {"title": "Age (years)"}},
    "y": {"field": "lo", "type": "quantitative", "scale": {"domain": [0, 47.5], "nice": false}, "axis": {"title": "Cumulative Incidence (%)"}},
    "y2": {"field": "hi"},
    "fill": {"field": "g", "type": "nominal", "scale": {"domain": ["FH– and PRS >90%","FH– and PRS 10%-90%","FH– and PRS <10%"], "range": ["#c9577a","#5b4ba8","#519bd9"]},
     "legend": {"title": "PRS and FH", "orient": "none", "legendX": 15.7, "legendY": 17.1, "titleOpacity": 0, "labelOpacity": 0, "symbolType": "M-1.308,-0.98H1.308V0.98H-1.308Z", "symbolSize": 169, "symbolOpacity": 0.28, "symbolStrokeWidth": 0, "symbolOffset": 2, "labelOffset": 10, "zindex": 1}}}},
  {"data": {"name": "cF"}, "mark": {"type": "line", "strokeWidth": 1.6, "interpolate": "monotone"},
   "encoding": {
    "x": {"field": "age", "type": "quantitative"},
    "y": {"field": "est", "type": "quantitative"},
    "stroke": {"field": "g", "type": "nominal", "scale": {"domain": ["FH– and PRS >90%","FH– and PRS 10%-90%","FH– and PRS <10%","s"], "range": ["#c9577a","#5b4ba8","#519bd9","#000"]},
     "legend": {"title": "PRS and FH", "orient": "none", "legendX": 15.7, "legendY": 17.1, "values": ["FH– and PRS >90%","FH– and PRS 10%-90%","FH– and PRS <10%"], "symbolType": "M-1.154,0H1.154", "symbolSize": 121, "symbolStrokeWidth": 2, "symbolOffset": 2, "symbolFillColor": "transparent", "labelOffset": 10, "zindex": 2}}}},
  {"data": {"values": [{"t": 2}]}, "mark": {"type": "rule", "color": "#111", "strokeWidth": 1.3, "strokeDash": [7, 4]},
   "encoding": {"y": {"field": "t", "type": "quantitative"}}},
  {"data": {"name": "aF"}, "mark": {"type": "rule", "strokeWidth": 1},
   "encoding": {"x": {"field": "sx", "type": "quantitative"}, "y": {"field": "sy", "type": "quantitative"}, "x2": {"field": "age"}, "y2": {"datum": 2},
    "color": {"field": "g", "type": "nominal", "scale": {"domain": ["FH– and PRS >90%","FH– and PRS 10%-90%","FH– and PRS <10%","c"], "range": ["#c9577a","#5b4ba8","#519bd9","#000"]}, "legend": null}}},
  {"data": {"name": "aF"}, "mark": {"type": "point", "filled": true, "size": 100, "opacity": 1},
   "encoding": {"x": {"field": "age", "type": "quantitative"}, "y": {"datum": 2},
    "color": {"field": "g", "type": "nominal", "scale": {"domain": ["FH– and PRS >90%","FH– and PRS 10%-90%","FH– and PRS <10%","c"], "range": ["#c9577a","#5b4ba8","#519bd9","#000"]}, "legend": null}}},
  {"data": {"name": "aF"}, "mark": {"type": "text", "fontSize": 13, "color": "#222"},
   "encoding": {"x": {"field": "tx", "type": "quantitative"}, "y": {"field": "ty", "type": "quantitative"}, "text": {"field": "label", "type": "nominal"}}}
 ]
},
{"width": 300, "height": 281, "view": {"stroke": null}, "data": {"values": []}, "mark": "point"},
{
 "width": 300, "height": 281, "title": "G",
 "layer": [
  {"data": {"name": "cG"}, "mark": {"type": "area", "opacity": 0.28, "interpolate": "monotone"},
   "encoding": {
    "x": {"field": "age", "type": "quantitative", "scale": {"domain": [20, 80], "nice": false, "zero": false}, "axis": {"title": "Age (years)"}},
    "y": {"field": "lo", "type": "quantitative", "scale": {"domain": [0, 47.5], "nice": false}, "axis": {"title": "Cumulative Incidence (%)"}},
    "y2": {"field": "hi"},
    "fill": {"field": "g", "type": "nominal", "scale": {"domain": ["FH+ and PRS >90%","FH+ and PRS 10%-90%","FH+ and PRS <10%"], "range": ["#c9577a","#5b4ba8","#519bd9"]},
     "legend": {"title": "PRS and FH", "orient": "none", "legendX": 15.7, "legendY": 17.1, "titleOpacity": 0, "labelOpacity": 0, "symbolType": "M-1.308,-0.98H1.308V0.98H-1.308Z", "symbolSize": 169, "symbolOpacity": 0.28, "symbolStrokeWidth": 0, "symbolOffset": 2, "labelOffset": 10, "zindex": 1}}}},
  {"data": {"name": "cG"}, "mark": {"type": "line", "strokeWidth": 1.6, "strokeDash": [5, 4], "interpolate": "monotone"},
   "encoding": {
    "x": {"field": "age", "type": "quantitative"},
    "y": {"field": "est", "type": "quantitative"},
    "stroke": {"field": "g", "type": "nominal", "scale": {"domain": ["FH+ and PRS >90%","FH+ and PRS 10%-90%","FH+ and PRS <10%","s"], "range": ["#c9577a","#5b4ba8","#519bd9","#000"]},
     "legend": {"title": "PRS and FH", "orient": "none", "legendX": 15.7, "legendY": 17.1, "values": ["FH+ and PRS >90%","FH+ and PRS 10%-90%","FH+ and PRS <10%"], "symbolType": "M-1.154,0H1.154", "symbolSize": 121, "symbolStrokeWidth": 1.6, "symbolDash": [3.2, 2.6], "symbolOffset": 2, "symbolFillColor": "transparent", "labelOffset": 10, "zindex": 2}}}},
  {"data": {"values": [{"t": 2}]}, "mark": {"type": "rule", "color": "#111", "strokeWidth": 1.3, "strokeDash": [7, 4]},
   "encoding": {"y": {"field": "t", "type": "quantitative"}}},
  {"data": {"name": "aG"}, "mark": {"type": "rule", "strokeWidth": 1},
   "encoding": {"x": {"field": "sx", "type": "quantitative"}, "y": {"field": "sy", "type": "quantitative"}, "x2": {"field": "age"}, "y2": {"datum": 2},
    "color": {"field": "g", "type": "nominal", "scale": {"domain": ["FH+ and PRS >90%","FH+ and PRS 10%-90%","FH+ and PRS <10%","c"], "range": ["#c9577a","#5b4ba8","#519bd9","#000"]}, "legend": null}}},
  {"data": {"name": "aG"}, "mark": {"type": "point", "filled": true, "size": 110, "opacity": 1},
   "encoding": {"x": {"field": "age", "type": "quantitative"}, "y": {"datum": 2},
    "color": {"field": "g", "type": "nominal", "scale": {"domain": ["FH+ and PRS >90%","FH+ and PRS 10%-90%","FH+ and PRS <10%","c"], "range": ["#c9577a","#5b4ba8","#519bd9","#000"]}, "legend": null}}},
  {"data": {"name": "aG"}, "mark": {"type": "text", "fontSize": 13, "color": "#222"},
   "encoding": {"x": {"field": "tx", "type": "quantitative"}, "y": {"field": "ty", "type": "quantitative"}, "text": {"field": "label", "type": "nominal"}}}
 ]
}
   ]
  }
 ],
 "spacing": 0.5,
 "bounds": "flush"
}
],
"config": {
 "font": "Liberation Sans",
 "view": {"stroke": "#000", "strokeWidth": 1.6},
 "axis": {"domain": false, "grid": false, "tickColor": "#000", "tickWidth": 1.4, "tickSize": 7, "labelFontSize": 18, "labelColor": "#111", "titleFontSize": 23.5, "titleFontWeight": "normal", "titleColor": "#111", "labelFlush": false, "labelOverlap": false},
 "axisX": {"tickCount": 7, "labelPadding": 10, "titlePadding": 19},
 "axisY": {"tickCount": 10, "labelPadding": 7, "titlePadding": 20},
 "legend": {"padding": 0, "titleFontSize": 12.5, "titleFontWeight": "normal", "titleColor": "#222", "titlePadding": 7.4, "labelFontSize": 13, "labelColor": "#222", "rowPadding": 0.3},
 "title": {"fontSize": 29, "fontWeight": "bold", "anchor": "start", "frame": "group", "dx": -102, "dy": 5, "offset": 0, "color": "#000"}
}
}
